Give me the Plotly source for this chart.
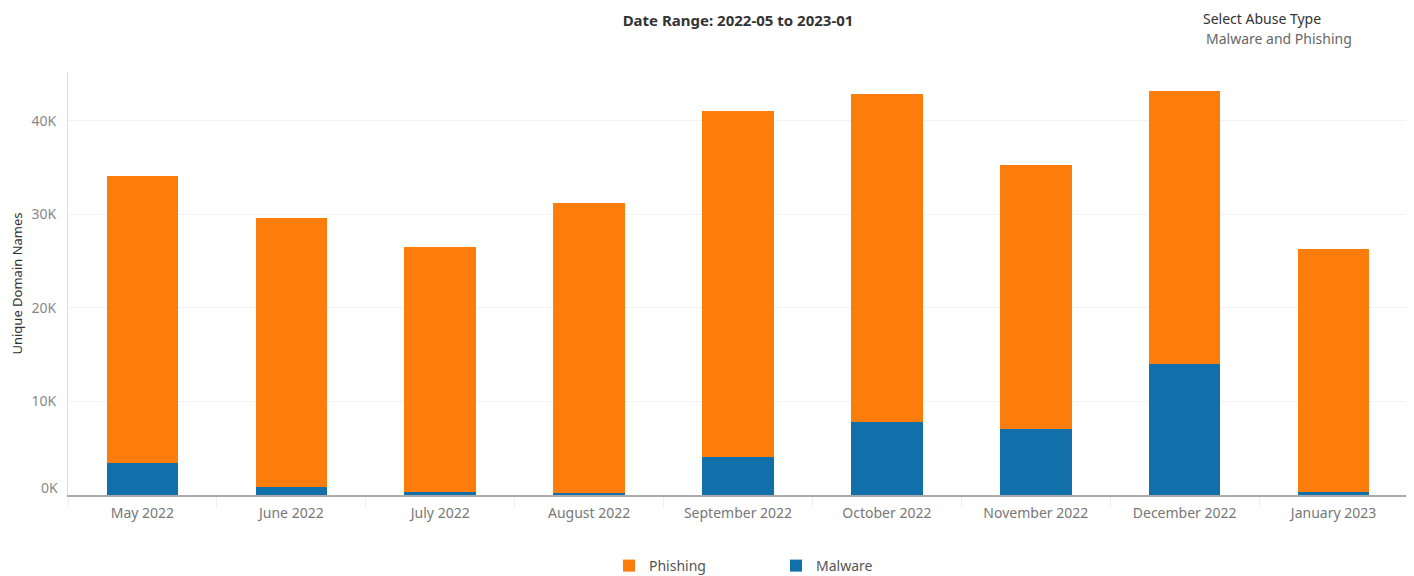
import plotly.graph_objects as go

months = ["May 2022", "June 2022", "July 2022", "August 2022", "September 2022",
          "October 2022", "November 2022", "December 2022", "January 2023"]
totals = [34100, 29600, 26500, 31200, 41000, 42900, 35300, 43200, 26300]
malware = [3420, 810, 320, 210, 4060, 7800, 7000, 13950, 320]
phishing = [t - m for t, m in zip(totals, malware)]
tick_vals = [10000, 20000, 30000, 40000]
tick_text = ["10K", "20K", "30K", "40K"]

FONT = "'Noto Sans', 'Open Sans', sans-serif"
OFF = 8  # page body margin offset

W, H = 1414 - OFF, 576 - OFF
L, T, PW, PH = 68 - OFF, 72 - OFF, 1340, 423

fig = go.Figure()
fig.add_trace(go.Bar(x=months, y=malware, name="Malware",
                     marker=dict(color="#1170AA", line=dict(width=0))))
fig.add_trace(go.Bar(x=months, y=phishing, name="Phishing",
                     marker=dict(color="#FC7D0B", line=dict(width=0))))

fig.update_layout(
    width=W, height=H,
    barmode="stack", bargap=0.52,
    plot_bgcolor="white", paper_bgcolor="white",
    margin=dict(l=L, r=W - L - PW, t=T, b=H - T - PH, autoexpand=False),
    font=dict(family=FONT, size=13, color="#666"),
    title=dict(text="<b>Date Range: 2022-05 to 2023-01</b>", x=(738 - OFF) / W, xanchor="center",
               y=1 - (21 - OFF) / H, yanchor="middle", font=dict(size=15, color="#333", family=FONT)),
    legend=dict(orientation="h", x=(609 - 68) / PW, xanchor="left", y=-(566 - 495) / PH,
                yanchor="middle",
                traceorder="reversed", entrywidth=122, entrywidthmode="pixels",
                font=dict(size=14, color="#555", family=FONT)),
    showlegend=True,
)
fig.update_xaxes(showgrid=False, showline=True, linecolor="#aaa", linewidth=2,
                 ticks="outside", tickson="boundaries", ticklen=10, tickcolor="#eee",
                 automargin=False, ticklabelstandoff=4,
                 tickfont=dict(size=14, color="#777"))
fig.update_yaxes(range=[0, 45200], tickvals=tick_vals, ticktext=tick_text,
                 showgrid=True, gridcolor="#f2f2f2", zeroline=False,
                 showline=True, linecolor="#ddd", linewidth=1, automargin=False,
                 tickfont=dict(size=14, color="#888"), ticks="", ticklabelstandoff=8,
                 title=dict(text="Unique Domain Names", font=dict(size=13, color="#333"),
                            standoff=6))

fig.add_annotation(text="0K", xref="paper", yref="y", x=0, y=0, xanchor="right",
                   yanchor="middle", xshift=-8, yshift=8, showarrow=False,
                   font=dict(size=14, color="#888", family=FONT))
fig.add_annotation(text="Select Abuse Type", xref="paper", yref="paper",
                   x=(1201 - 68) / PW, xanchor="left", y=1 + (72 - 18) / PH, yanchor="middle",
                   showarrow=False, font=dict(size=14, color="#333", family=FONT))
fig.add_annotation(text="Malware and Phishing", xref="paper", yref="paper",
                   x=(1204 - 68) / PW, xanchor="left", y=1 + (72 - 38) / PH, yanchor="middle",
                   showarrow=False, font=dict(size=14, color="#666", family=FONT))

fig.write_html("out.html")
